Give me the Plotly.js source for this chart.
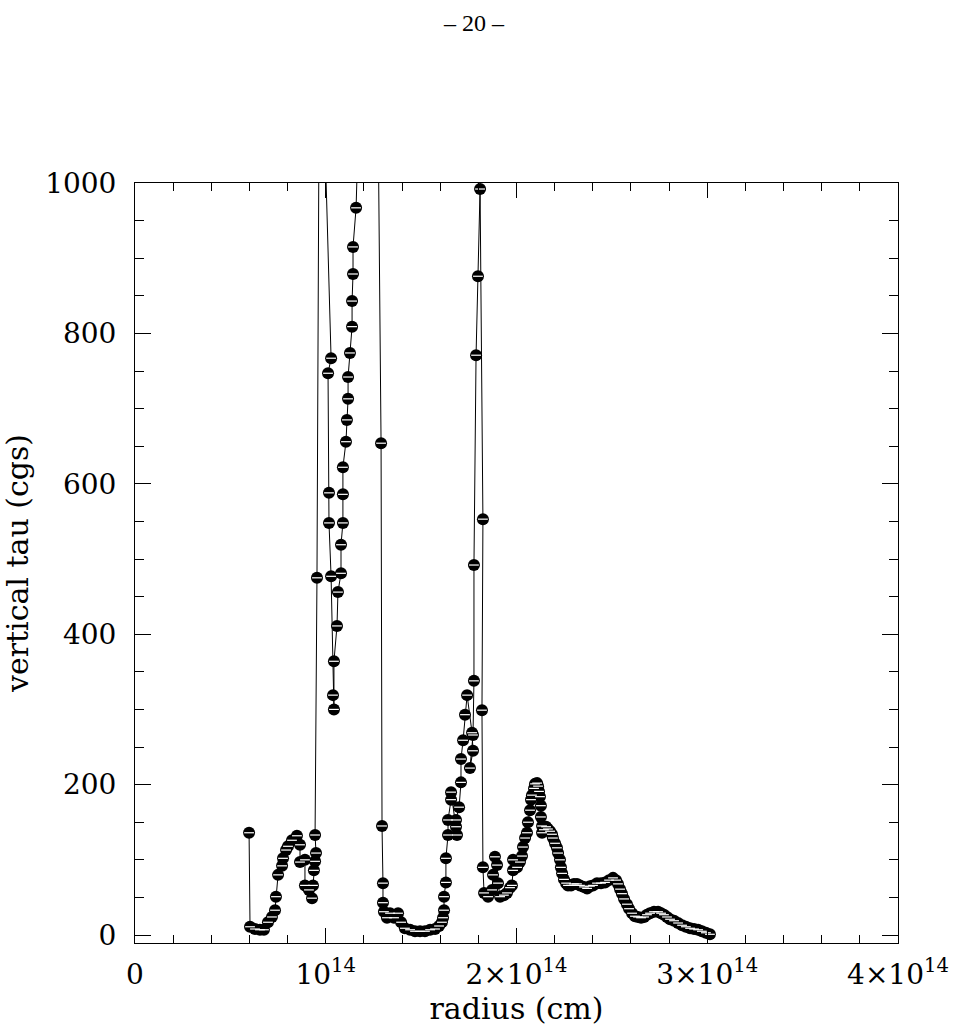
<!DOCTYPE html>
<html>
<head>
<meta charset="utf-8">
<script src="https://cdn.plot.ly/plotly-3.0.1.min.js"></script>
<style>html,body{margin:0;padding:0;background:#fff;}</style>
</head>
<body>
<div id="chart" style="width:953px;height:1031px;"></div>
<script>
// radius in units of 1e14 cm, values > 1000 lie above the frame
const radius = [
0.598,0.603,0.629,0.655,0.676,0.697,0.718,0.734,0.739,0.750,0.771,0.776,0.792,0.802,0.823,0.849,0.865,0.865,0.891,0.891,0.912,0.928,0.933,0.938,0.944,0.949,0.944,0.954,
0.965,0.991,
1.028,1.012,1.017,1.017,1.028,1.038,1.043,1.043,1.059,1.064,1.080,1.080,1.090,1.090,1.090,1.106,1.111,1.117,1.117,1.127,1.138,1.138,1.143,1.143,1.159,
1.174,1.274,
1.290,1.295,1.300,1.300,1.305,1.321,1.337,1.358,1.379,1.395,1.415,1.442,1.468,1.494,1.520,1.547,1.573,1.594,1.609,1.615,1.620,1.620,1.630,1.630,1.641,1.641,1.657,1.657,
1.683,1.688,1.683,1.699,1.709,1.709,1.720,1.730,1.741,1.767,1.772,1.756,1.772,1.777,1.777,1.788,1.798,1.809,1.824,1.819,1.824,
1.830,1.851,1.872,1.877,1.887,1.898,1.903,1.914,1.934,1.950,1.966,1.976,1.982,1.982,2.003,2.018,2.029,2.034,2.045,2.055,2.060,2.071,2.076,2.081,2.092,2.097,2.108,2.113,2.118,2.123,2.128,2.128,2.134,2.134,
2.144,2.155,2.165,2.176,2.186,2.191,2.202,2.212,2.218,2.228,2.233,2.239,2.249,2.260,2.270,2.286,2.301,2.317,2.333,2.354,2.370,2.385,2.401,2.422,2.443,2.464,2.485,2.506,2.522,2.532,2.543,2.553,2.564,2.579,2.590,2.606,2.621,2.637,2.653,2.669,2.684,2.700,2.721,2.742,2.758,2.773,2.789,2.805,2.826,2.847,2.868,2.888,2.910,2.931,2.952,2.972,2.993,3.014
];
const tau = [
136,11,8,7,7,17,24,33,51,80,92,102,113,118,126,132,120,97,100,66,60,49,66,86,98,109,133,475,
1100,1100,
767,747,588,548,477,319,300,364,411,456,481,519,548,586,622,656,685,713,742,774,809,843,879,915,967,
1100,1100,
654,145,69,43,31,23,29,23,29,17,9,7,5,5,5,7,8,12,17,23,33,51,70,102,133,153,180,190,
144,133,153,170,203,234,259,293,319,269,245,222,266,338,492,771,876,992,553,299,90,
56,51,60,80,104,93,69,51,53,56,63,66,86,100,90,97,105,117,129,136,150,166,180,186,195,201,202,198,191,184,172,157,145,136,
140,144,141,138,134,129,122,116,109,100,90,82,74,69,66,66,68,68,66,64,62,65,66,69,69,70,73,76,73,68,61,55,48,41,35,29,25,24,23,24,27,29,31,31,29,27,24,21,19,16,13,11,9,8,7,5,3,1
];
const xTickVals = [0,1,2,3,4];
const xTickText = ['0','10<sup>14</sup>','2×10<sup>14</sup>','3×10<sup>14</sup>','4×10<sup>14</sup>'];
const yTickVals = [0,200,400,600,800,1000];
const yTickText = ['0','200','400','600','800','1000'];
const pageLabel = '– 20 –';
const xTitle = 'radius (cm)';
const yTitle = 'vertical tau (cgs)';

const serif = 'DejaVu Serif, Liberation Serif, serif';

const traces = [
  {x: radius, y: tau, type:'scatter', mode:'lines+markers',
   line:{color:'black', width:1},
   marker:{symbol:'circle', size:12, color:'black', line:{width:0}},
   hoverinfo:'skip'},
  {x: radius, y: tau, type:'scatter', mode:'markers',
   marker:{symbol:'line-ew', size:7, line:{color:'white', width:1.2}},
   hoverinfo:'skip'}
];

const axisCommon = {
  ticks:'inside', tickcolor:'black', tickwidth:1,
  showline:true, linecolor:'black', linewidth:1, mirror:'ticks',
  showgrid:false, zeroline:false, automargin:false,
  tickfont:{family:serif, size:28, color:'black'}
};

const layout = {
  width:953, height:1031,
  margin:{l:135, r:55, t:183, b:88},
  paper_bgcolor:'white', plot_bgcolor:'white',
  showlegend:false,
  xaxis: Object.assign({}, axisCommon, {
    range:[0,4], tickmode:'array', tickvals:xTickVals, ticktext:xTickText,
    ticklen:15, ticklabelstandoff:6,
    minor:{dtick:0.2, tick0:0, ticks:'inside', ticklen:8, tickcolor:'black', tickwidth:1, showgrid:false},
    title:{text:xTitle, font:{family:serif, size:30, color:'black'}, standoff:6}
  }),
  yaxis: Object.assign({}, axisCommon, {
    range:[-10.6,1000], tickmode:'array', tickvals:yTickVals, ticktext:yTickText,
    ticklen:16, ticklabelstandoff:12,
    minor:{dtick:50, tick0:0, ticks:'inside', ticklen:9, tickcolor:'black', tickwidth:1, showgrid:false},
    title:{text:yTitle, font:{family:serif, size:30, color:'black'}, standoff:10}
  }),
  annotations:[
    {text:pageLabel, xref:'paper', yref:'paper', x:0.444, y:1.211, xanchor:'center', yanchor:'middle',
     showarrow:false, font:{family:'Liberation Serif, serif', size:24, color:'black'}}
  ]
};

Plotly.newPlot('chart', traces, layout, {staticPlot:true, displayModeBar:false});
</script>
</body>
</html>
